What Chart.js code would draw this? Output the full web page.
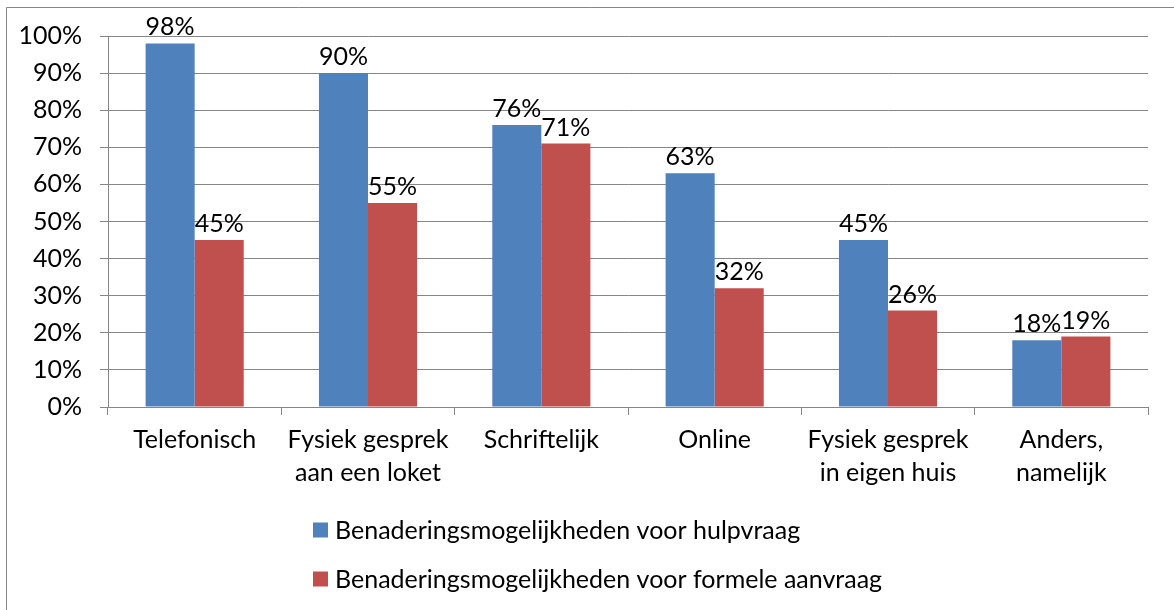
<!DOCTYPE html>
<html>
<head>
<meta charset="utf-8">
<script src="https://cdn.jsdelivr.net/npm/chart.js@4.4.1/dist/chart.umd.min.js"></script>
<style>
  html, body { margin: 0; padding: 0; background: #fff; }
  #wrap { width: 1174px; height: 610px; }
</style>
</head>
<body>
<div id="wrap"><canvas id="c" width="1174" height="610"></canvas></div>
<script>
const categories = [
  ['Telefonisch'],
  ['Fysiek gesprek', 'aan een loket'],
  ['Schriftelijk'],
  ['Online'],
  ['Fysiek gesprek', 'in eigen huis'],
  ['Anders,', 'namelijk']
];
const seriesNames = [
  'Benaderingsmogelijkheden voor hulpvraag',
  'Benaderingsmogelijkheden voor formele aanvraag'
];
const hulpvraag = [98, 90, 76, 63, 45, 18];
const formeleAanvraag = [45, 55, 71, 32, 26, 19];
const yTicks = [0, 10, 20, 30, 40, 50, 60, 70, 80, 90, 100];

const FONT = 'Lato, Carlito, Calibri, sans-serif';
const FS = 25;
const GRID = '#868686';

const borderPlugin = {
  id: 'outerBorder',
  beforeDraw(chart) {
    const ctx = chart.ctx;
    ctx.save();
    ctx.fillStyle = '#fff';
    ctx.fillRect(0, 0, chart.width, chart.height);
    ctx.strokeStyle = GRID;
    ctx.lineWidth = 1;
    ctx.beginPath();
    ctx.moveTo(6.5, chart.height + 5);
    ctx.lineTo(6.5, 7.5);
    ctx.lineTo(chart.width + 5, 7.5);
    ctx.stroke();
    ctx.restore();
  }
};

const valueLabels = {
  id: 'valueLabels',
  afterDatasetsDraw(chart) {
    const ctx = chart.ctx;
    ctx.save();
    ctx.font = FS + 'px ' + FONT;
    ctx.fillStyle = '#000';
    ctx.textAlign = 'center';
    ctx.textBaseline = 'alphabetic';
    chart.data.datasets.forEach((ds, i) => {
      const meta = chart.getDatasetMeta(i);
      meta.data.forEach((bar, j) => {
        ctx.fillText(ds.data[j] + '%', bar.x, bar.y - 8);
      });
    });
    ctx.restore();
  }
};

const customLegend = {
  id: 'customLegend',
  afterDraw(chart) {
    const ctx = chart.ctx;
    ctx.save();
    ctx.font = FS + 'px ' + FONT;
    ctx.textAlign = 'left';
    ctx.textBaseline = 'middle';
    const x0 = 313, rows = [530, 579];
    chart.data.datasets.forEach((ds, i) => {
      const cy = rows[i];
      ctx.fillStyle = ds.backgroundColor;
      ctx.fillRect(x0, cy - 7.5, 15, 15);
      ctx.fillStyle = '#000';
      ctx.fillText(ds.label, x0 + 22, cy + 1);
    });
    ctx.restore();
  }
};

new Chart(document.getElementById('c'), {
  type: 'bar',
  data: {
    labels: categories,
    datasets: [
      { label: seriesNames[0], data: hulpvraag, backgroundColor: '#4F81BD' },
      { label: seriesNames[1], data: formeleAanvraag, backgroundColor: '#C0504D' }
    ]
  },
  options: {
    responsive: false,
    animation: false,
    devicePixelRatio: 1,
    layout: { padding: { top: 36, left: 0, right: 26, bottom: 0 } },
    datasets: { bar: { categoryPercentage: 0.566, barPercentage: 1.0, borderWidth: 0 } },
    plugins: {
      legend: { display: false },
      tooltip: { enabled: false }
    },
    scales: {
      x: {
        offset: true,
        grid: { display: true, offset: true, drawOnChartArea: false, drawTicks: true, tickLength: 8, color: GRID },
        border: { display: true, color: GRID },
        ticks: {
          color: '#000',
          padding: 8,
          maxRotation: 0,
          autoSkip: false,
          font: { family: FONT, size: FS, lineHeight: '33px' }
        },
        afterFit(scale) { scale.height = 610 - 407; }
      },
      y: {
        min: 0,
        max: 100,
        afterBuildTicks(scale) { scale.ticks = yTicks.map(v => ({ value: v })); },
        grid: { color: GRID, drawTicks: true, tickLength: 8 },
        border: { display: true, color: GRID },
        ticks: {
          color: '#000',
          padding: 18,
          font: { family: FONT, size: FS },
          callback: v => v + '%'
        },
        afterFit(scale) { scale.width = 108; }
      }
    }
  },
  plugins: [borderPlugin, valueLabels, customLegend]
});
</script>
</body>
</html>
